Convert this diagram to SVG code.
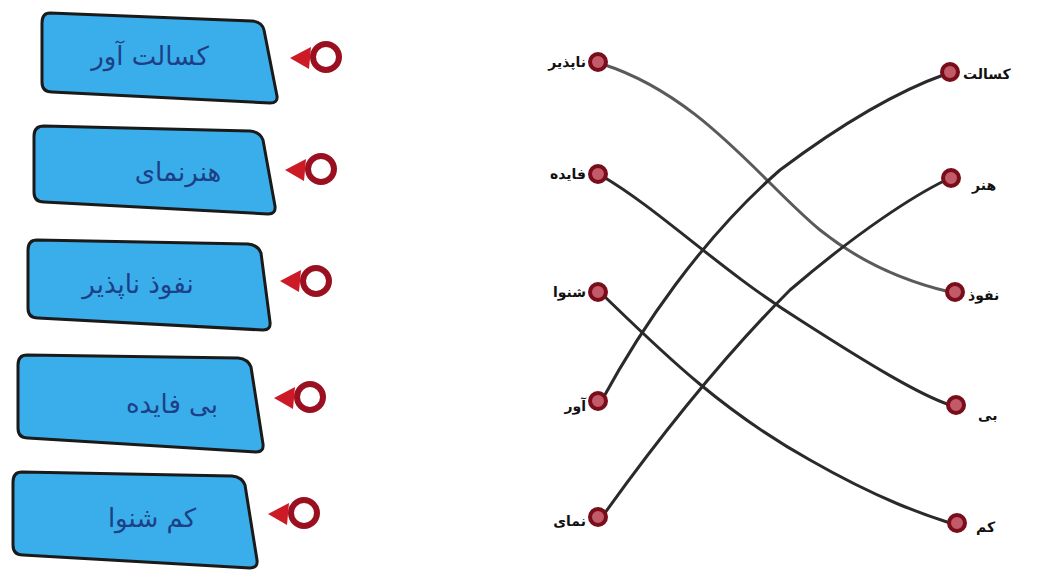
<svg xmlns="http://www.w3.org/2000/svg" width="1042" height="577" viewBox="0 0 1042 577">
<style>
.box{fill:#3aaeea;stroke:#1a1a1a;stroke-width:3;stroke-linejoin:round}
.bt{font-family:"DejaVu Sans",sans-serif;font-size:26px;fill:#1d3f86;text-anchor:middle}
.ring{fill:#ffffff;stroke:#9b1020;stroke-width:6}
.tri{fill:#cc1a26}
.dot{fill:#c25a6a;stroke:#7a0d1a;stroke-width:4}
.lbl{font-family:"DejaVu Sans",sans-serif;font-size:14px;font-weight:bold;fill:#111}
.ln{fill:none;stroke:#2a2a2a;stroke-width:3;stroke-linecap:round}
</style>
<rect width="1042" height="577" fill="#ffffff"/>
<g id="box1">
<path class="box" d="M50,13 L252,21 Q262,22 264,30 L277,96 Q278,103 270,103 L52,92 Q42,92 42,82 L42,23 Q42,13 50,13 Z"/>
<text class="bt" x="150" y="65">کسالت آور</text>
<polygon class="tri" points="290,58 311,47 309,69"/>
<circle class="ring" cx="326" cy="57" r="13"/>
</g>
<g id="box2">
<path class="box" d="M44,126 L250,131 Q260,132 263,140 L275,206 Q276,214 268,214 L44,202 Q34,202 34,192 L34,136 Q34,126 44,126 Z"/>
<text class="bt" x="178" y="181">هنرنمای</text>
<polygon class="tri" points="285,170 306,159 304,181"/>
<circle class="ring" cx="321" cy="169" r="13"/>
</g>
<g id="box3">
<path class="box" d="M37,240 L248,244 Q258,245 261,253 L270,322 Q271,330 263,330 L38,318 Q28,318 28,308 L28,250 Q28,240 37,240 Z"/>
<text class="bt" x="138" y="293">نفوذ ناپذیر</text>
<polygon class="tri" points="280,281 301,270 299,292"/>
<circle class="ring" cx="316" cy="281" r="13"/>
</g>
<g id="box4">
<path class="box" d="M27,355 L238,358 Q248,359 251,367 L263,444 Q264,452 256,452 L28,438 Q18,438 18,428 L18,365 Q18,355 27,355 Z"/>
<text class="bt" x="172" y="413">بی فایده</text>
<polygon class="tri" points="274,398 295,387 293,409"/>
<circle class="ring" cx="310" cy="397" r="13"/>
</g>
<g id="box5">
<path class="box" d="M22,472 L232,476 Q242,477 245,485 L257,560 Q258,568 250,568 L23,555 Q13,555 13,545 L13,482 Q13,472 22,472 Z"/>
<text class="bt" x="152" y="527">کم شنوا</text>
<polygon class="tri" points="268,514 289,503 287,525"/>
<circle class="ring" cx="304" cy="513" r="13"/>
</g>
<g id="connectors">
<path class="ln" style="stroke:#5a5a5a" d="M602,64 C700,95 760,180 820,230 C870,270 920,285 950,292"/>
<path class="ln" d="M602,176 C660,210 720,270 800,320 C870,365 920,395 950,405"/>
<path class="ln" d="M602,294 C660,350 720,410 810,460 C880,500 925,515 950,523"/>
<path class="ln" d="M602,400 C640,330 700,240 780,170 C860,110 915,85 946,74"/>
<path class="ln" d="M602,517 C650,450 720,360 790,290 C860,230 915,195 946,180"/>
</g>
<g id="n-l1"><circle class="dot" cx="598" cy="62" r="8"/><text class="lbl" x="586" y="67" text-anchor="end">ناپذیر</text></g>
<g id="n-l2"><circle class="dot" cx="598" cy="174" r="8"/><text class="lbl" x="586" y="179" text-anchor="end">فایده</text></g>
<g id="n-l3"><circle class="dot" cx="598" cy="292" r="8"/><text class="lbl" x="586" y="297" text-anchor="end">شنوا</text></g>
<g id="n-l4"><circle class="dot" cx="598" cy="401" r="8"/><text class="lbl" x="586" y="411" text-anchor="end">آور</text></g>
<g id="n-l5"><circle class="dot" cx="598" cy="517" r="8"/><text class="lbl" x="586" y="526" text-anchor="end">نمای</text></g>
<g id="n-r1"><circle class="dot" cx="950" cy="72" r="8"/><text class="lbl" x="963" y="79">کسالت</text></g>
<g id="n-r2"><circle class="dot" cx="951" cy="178" r="8"/><text class="lbl" x="972" y="190">هنر</text></g>
<g id="n-r3"><circle class="dot" cx="955" cy="292" r="8"/><text class="lbl" x="968" y="300">نفوذ</text></g>
<g id="n-r4"><circle class="dot" cx="956" cy="405" r="8"/><text class="lbl" x="978" y="420">بی</text></g>
<g id="n-r5"><circle class="dot" cx="957" cy="523" r="8"/><text class="lbl" x="976" y="532">کم</text></g>
</svg>
